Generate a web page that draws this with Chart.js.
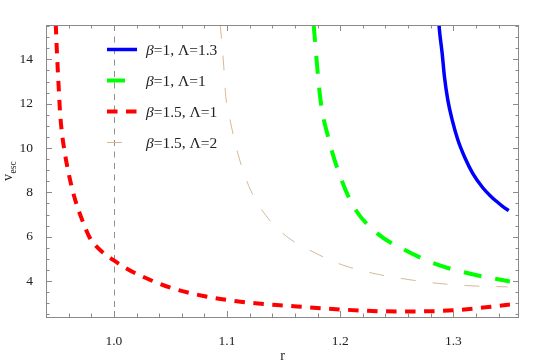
<!DOCTYPE html>
<html>
<head>
<meta charset="utf-8">
<script src="https://cdn.jsdelivr.net/npm/chart.js@4/dist/chart.umd.min.js"></script>
<style>
  body { margin: 0; background: #fff; }
  #wrap { width: 545px; height: 363px; }
</style>
</head>
<body>
<div id="wrap"><canvas id="escChart" width="545" height="363"></canvas></div>
<script>
// beta=1, Lambda=1.3
const rBlue = [1.2873, 1.2877, 1.2901, 1.2921, 1.2951, 1.299, 1.304, 1.3098, 1.3171, 1.326, 1.333, 1.3378, 1.3435, 1.3489];
const vBlue = [15.6, 15.32, 14.27, 13.22, 12.16, 11.26, 10.36, 9.61, 8.86, 8.21, 7.83, 7.61, 7.37, 7.18];
// beta=1, Lambda=1
const rGreen = [1.1765, 1.178, 1.1826, 1.19, 1.199, 1.212, 1.233, 1.258, 1.286, 1.315, 1.35];
const vGreen = [15.6, 14.65, 12.17, 10.37, 8.86, 7.35, 6.14, 5.38, 4.74, 4.33, 3.98];
// beta=1.5, Lambda=1
const rRed = [0.9486, 0.9497, 0.9512, 0.9523, 0.9538, 0.9567, 0.96, 0.965, 0.9709, 0.9782, 0.983, 0.99, 1.0, 1.01, 1.02, 1.05, 1.079, 1.1, 1.125, 1.15, 1.2, 1.25, 1.3, 1.35];
const vRed = [15.6, 14.27, 12.76, 11.71, 10.81, 9.76, 8.86, 7.8, 6.9, 6.0, 5.65, 5.3, 4.93, 4.6, 4.33, 3.7, 3.33, 3.15, 3.0, 2.9, 2.72, 2.63, 2.68, 2.94];
// beta=1.5, Lambda=2
const rTan = [1.0939, 1.0944, 1.0971, 1.0989, 1.1018, 1.1083, 1.1177, 1.1289, 1.1494, 1.1759, 1.2024, 1.2319, 1.2642, 1.2937, 1.323, 1.348];
const vTan = [15.6, 15.32, 13.67, 12.31, 11.49, 9.99, 8.48, 7.35, 6.15, 5.32, 4.72, 4.32, 4.04, 3.86, 3.77, 3.74];

const seriesLabels = [
  ["\u03B2", "=1, \u039B=1.3"],
  ["\u03B2", "=1, \u039B=1"],
  ["\u03B2", "=1.5, \u039B=1"],
  ["\u03B2", "=1.5, \u039B=2"]
];

const xTicks = [1.0, 1.1, 1.2, 1.3];
const yTicks = [4, 6, 8, 10, 12, 14];
const xMinorStep = 0.02;
const yMinorStep = 0.5;
const markerR = 1.0;

const FRAME = "#8a8a8a";
const TEXT = "#222";
const SERIF = "'Liberation Serif', 'DejaVu Serif', Times, serif";

function pts(xs, ys) {
  return xs.map((x, i) => ({ x: x, y: ys[i] }));
}

function line(label, xs, ys, color, width, dash) {
  return {
    label: label,
    data: pts(xs, ys),
    showLine: true,
    borderColor: color,
    backgroundColor: color,
    borderWidth: width,
    borderDash: dash,
    pointRadius: 0,
    cubicInterpolationMode: "monotone",
    clip: 0
  };
}

const frameAndTicks = {
  id: "frameAndTicks",
  beforeDatasetsDraw(chart) {
    const { ctx, chartArea: a, scales: { x } } = chart;
    // dashed marker at r = 1
    const px = Math.round(x.getPixelForValue(markerR)) + 0.5;
    ctx.save();
    ctx.strokeStyle = "#909090";
    ctx.lineWidth = 1;
    ctx.setLineDash([6, 5.5]);
    ctx.beginPath();
    ctx.moveTo(px, a.top);
    ctx.lineTo(px, a.bottom);
    ctx.stroke();
    ctx.restore();
  },
  afterDraw(chart) {
    const { ctx, chartArea: a, scales: { x, y } } = chart;
    ctx.save();
    ctx.strokeStyle = FRAME;
    ctx.lineWidth = 1;
    ctx.strokeRect(a.left + 0.5, a.top + 0.5, a.right - a.left - 1, a.bottom - a.top);

    ctx.beginPath();
    for (let v = Math.ceil(x.min / xMinorStep) * xMinorStep; v <= x.max + 1e-9; v += xMinorStep) {
      const major = xTicks.some(t => Math.abs(t - v) < 1e-6);
      const len = major ? 6 : 3.5;
      const p = Math.round(x.getPixelForValue(v)) + 0.5;
      ctx.moveTo(p, a.bottom); ctx.lineTo(p, a.bottom - len);
      ctx.moveTo(p, a.top); ctx.lineTo(p, a.top + len);
    }
    for (let v = Math.ceil(y.min / yMinorStep) * yMinorStep; v <= y.max + 1e-9; v += yMinorStep) {
      const major = yTicks.some(t => Math.abs(t - v) < 1e-6);
      const len = major ? 6 : 3.5;
      const p = Math.round(y.getPixelForValue(v)) + 0.5;
      ctx.moveTo(a.left, p); ctx.lineTo(a.left + len, p);
      ctx.moveTo(a.right, p); ctx.lineTo(a.right - len, p);
    }
    ctx.stroke();

    // axis titles
    ctx.fillStyle = TEXT;
    ctx.font = "14px " + SERIF;
    ctx.textAlign = "center";
    ctx.textBaseline = "alphabetic";
    ctx.fillText("r", (a.left + a.right) / 2, 360);

    ctx.translate(12, 181);
    ctx.rotate(-Math.PI / 2);
    ctx.textAlign = "left";
    ctx.font = "14px " + SERIF;
    ctx.fillText("v", 0, 0);
    const w = ctx.measureText("v").width;
    ctx.font = "9.5px " + SERIF;
    ctx.fillText("esc", w + 0.5, 3.5);
    ctx.restore();

    // legend
    ctx.save();
    chart.data.datasets.forEach((ds, i) => {
      const cy = 49.5 + i * 31;
      ctx.strokeStyle = ds.borderColor;
      ctx.lineWidth = ds.borderWidth;
      ctx.setLineDash(ds.borderDash || []);
      ctx.beginPath();
      ctx.moveTo(107, cy);
      ctx.lineTo(137, cy);
      ctx.stroke();

      ctx.fillStyle = TEXT;
      ctx.textBaseline = "middle";
      ctx.textAlign = "left";
      const [greek, rest] = seriesLabels[i];
      ctx.font = "italic 15.5px " + SERIF;
      ctx.fillText(greek, 146, cy + 1);
      const gw = ctx.measureText(greek).width;
      ctx.font = "15.5px " + SERIF;
      ctx.fillText(rest, 146 + gw, cy + 1);
    });
    ctx.restore();
  }
};

new Chart(document.getElementById("escChart").getContext("2d"), {
  type: "scatter",
  data: {
    datasets: [
      line(seriesLabels[0].join(""), rBlue, vBlue, "#0000ff", 3.5, []),
      line(seriesLabels[1].join(""), rGreen, vGreen, "#00ff00", 4, [18, 14]),
      line(seriesLabels[2].join(""), rRed, vRed, "#ff0000", 4, [10.5, 8.5]),
      line(seriesLabels[3].join(""), rTan, vTan, "rgb(214,184,150)", 1, [15, 17])
    ]
  },
  options: {
    responsive: false,
    animation: false,
    layout: { padding: { left: 0, top: 25, right: 26, bottom: 0 } },
    plugins: { legend: { display: false }, tooltip: { enabled: false } },
    scales: {
      x: {
        type: "linear",
        min: 0.94,
        max: 1.358,
        grid: { display: false },
        border: { display: false },
        afterFit: s => { s.height = 46; },
        afterBuildTicks: s => { s.ticks = xTicks.map(v => ({ value: v })); },
        ticks: {
          padding: 8,
          color: TEXT,
          font: { family: SERIF, size: 13.5 },
          callback: v => Number(v).toFixed(1)
        }
      },
      y: {
        type: "linear",
        min: 2.38,
        max: 15.55,
        grid: { display: false },
        border: { display: false },
        afterFit: s => { s.width = 46; },
        afterBuildTicks: s => { s.ticks = yTicks.map(v => ({ value: v })); },
        ticks: {
          padding: 5,
          color: TEXT,
          font: { family: SERIF, size: 13.5 },
          callback: v => String(v)
        }
      }
    }
  },
  plugins: [frameAndTicks]
});
</script>
</body>
</html>
